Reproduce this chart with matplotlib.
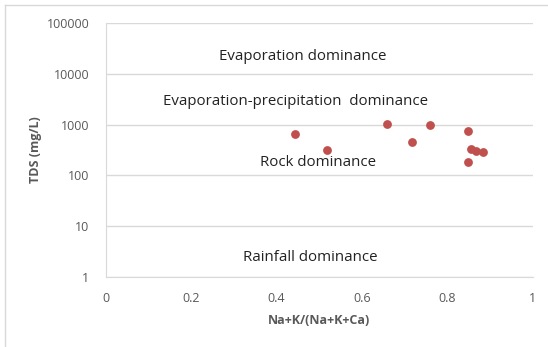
import matplotlib.pyplot as plt
from matplotlib.lines import Line2D

# sample ratios and TDS values
ratio = [0.442, 0.519, 0.658, 0.718, 0.759, 0.848, 0.848, 0.856, 0.867, 0.884]
tds = [645, 312, 1042, 454, 982, 738, 186, 336, 302, 289]

zones = ['Evaporation dominance', 'Evaporation-precipitation  dominance',
         'Rock dominance', 'Rainfall dominance']
zone_x = [0.461, 0.445, 0.497, 0.478]
zone_y = [10**4.337, 10**3.457, 10**2.258, 10**0.388]

y_ticks = [1, 10, 100, 1000, 10000, 100000]
x_ticks = [0, 0.2, 0.4, 0.6, 0.8, 1]

plt.rcParams['font.family'] = ['Open Sans', 'DejaVu Sans']

fig = plt.figure(figsize=(5.48, 3.47), dpi=100)
ax = fig.add_axes([0.1933, 0.2017, 0.972 - 0.1933, 0.9337 - 0.2017])

ax.scatter(ratio, tds, s=40, color='#C0504D', zorder=3, linewidths=0)

ax.set_yscale('log')
ax.set_xlim(0, 1)
ax.set_ylim(1, 100000)
ax.set_yticks(y_ticks)
ax.set_yticklabels([str(v) for v in y_ticks])
ax.yaxis.set_minor_locator(plt.NullLocator())
ax.set_xticks(x_ticks)
ax.set_xticklabels([('%g' % v) for v in x_ticks])
ax.tick_params(length=0, labelsize=9, labelcolor='#595959')
ax.tick_params(axis='x', pad=11)
ax.tick_params(axis='y', pad=12)

ax.grid(axis='y', color='#D9D9D9', linewidth=1)
ax.set_axisbelow(True)
for side in ['top', 'right']:
    ax.spines[side].set_visible(False)
ax.spines['left'].set_color('#D9D9D9')
ax.spines['bottom'].set_color('#D9D9D9')

for txt, x, y in zip(zones, zone_x, zone_y):
    ax.text(x, y, txt, ha='center', va='center', fontsize=10.8, color='#222222')

ax.set_xlabel('Na+K/(Na+K+Ca)', fontsize=9, fontweight='bold', color='#595959', labelpad=6)
ax.set_ylabel('TDS (mg/L)', fontsize=9, fontweight='bold', color='#595959', labelpad=3)

# chart frame (only top and left edges show in the crop)
fig.add_artist(Line2D([5 / 548, 5 / 548], [0, 1 - 5 / 347], color='#D9D9D9', lw=1))
fig.add_artist(Line2D([5 / 548, 1], [1 - 5 / 347, 1 - 5 / 347], color='#D9D9D9', lw=1))

plt.savefig('out.png', dpi=100)
